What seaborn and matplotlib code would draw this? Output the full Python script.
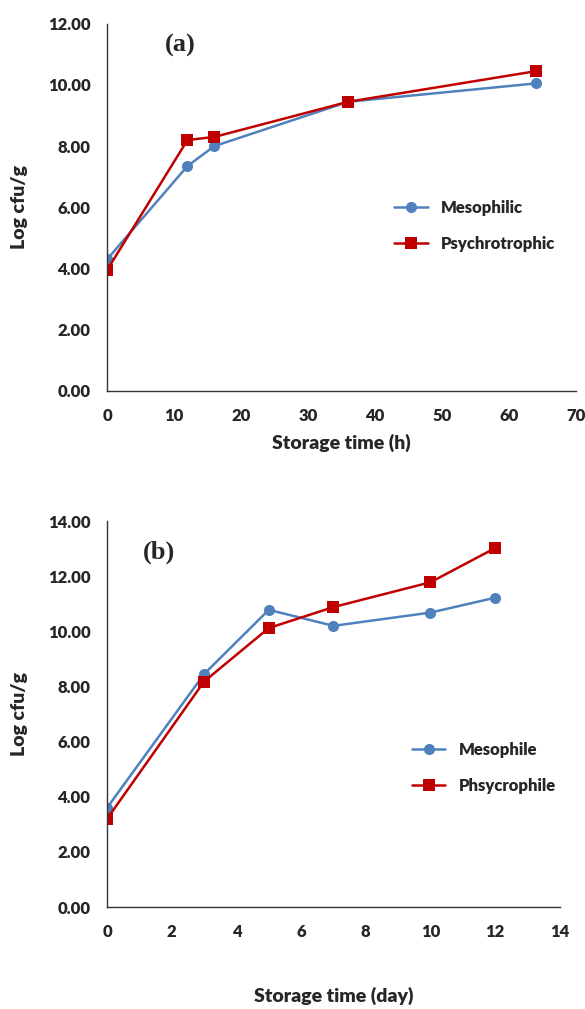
import pandas as pd
import matplotlib
matplotlib.use('Agg')
import matplotlib.pyplot as plt
import seaborn as sns

# Panel (a): storage time in hours
hours = [0, 12, 16, 36, 64]
mesophilic_a = [4.30, 7.35, 8.00, 9.45, 10.05]
psychrotrophic_a = [3.95, 8.20, 8.30, 9.45, 10.45]

# Panel (b): storage time in days
days = [0, 3, 5, 7, 10, 12]
mesophile_b = [3.60, 8.45, 10.78, 10.20, 10.68, 11.22]
phsycrophile_b = [3.20, 8.18, 10.12, 10.88, 11.78, 13.02]

BLUE = '#4F81BD'
RED = '#C00000'
WEIGHT = 'heavy'


def long_form(x, series):
    rows = []
    for name, vals in series.items():
        for xi, yi in zip(x, vals):
            rows.append({'x': xi, 'y': yi, 'series': name})
    return pd.DataFrame(rows)


def style_axes(ax, xlim, xticks, ylim, yticks, xlabel, xlabel_pad):
    ax.set_xlim(*xlim)
    ax.set_ylim(*ylim)
    ax.set_xticks(xticks)
    ax.set_yticks(yticks)
    ax.set_yticklabels([f'{v:.2f}' for v in yticks])
    ax.tick_params(length=0, labelsize=12, pad=12)
    for lab in ax.get_xticklabels() + ax.get_yticklabels():
        lab.set_fontweight(WEIGHT)
    for s in ['top', 'right']:
        ax.spines[s].set_visible(False)
    for s in ['left', 'bottom']:
        ax.spines[s].set_color('#333333')
        ax.spines[s].set_linewidth(1.0)
    ax.set_xlabel(xlabel, fontsize=14, fontweight=WEIGHT, labelpad=xlabel_pad)
    ax.set_ylabel('Log cfu/g', fontsize=14, fontweight=WEIGHT, labelpad=14)
    ax.grid(False)


def main():
    sns.set_style('white')
    plt.rcParams['font.family'] = ['Lato', 'DejaVu Sans']

    fig = plt.figure(figsize=(5.85, 10.09), dpi=100)
    ax_a = fig.add_axes([0.183, 0.6125, 0.802, 0.364])
    ax_b = fig.add_axes([0.183, 0.101, 0.774, 0.3826])

    names_a = ['Mesophilic', 'Psychrotrophic']
    df_a = long_form(hours, {'Mesophilic': mesophilic_a, 'Psychrotrophic': psychrotrophic_a})
    sns.lineplot(data=df_a, x='x', y='y', hue='series', style='series',
                 hue_order=names_a, style_order=names_a,
                 palette=[BLUE, RED], markers=['o', 's'], dashes=False,
                 markersize=8, markeredgewidth=0, linewidth=1.8, ax=ax_a)
    style_axes(ax_a, (0, 70), range(0, 71, 10), (0, 12), [0, 2, 4, 6, 8, 10, 12],
               'Storage time (h)', 7)
    ax_a.legend(loc='center left', bbox_to_anchor=(0.58, 0.45), frameon=False,
                prop={'weight': WEIGHT, 'size': 12}, labelspacing=1.2,
                handlelength=2.0)
    ax_a.text(0.155, 0.94, '(a)', transform=ax_a.transAxes, fontsize=19,
              fontweight='bold', family='Liberation Serif', ha='center', va='center')

    names_b = ['Mesophile', 'Phsycrophile']
    df_b = long_form(days, {'Mesophile': mesophile_b, 'Phsycrophile': phsycrophile_b})
    sns.lineplot(data=df_b, x='x', y='y', hue='series', style='series',
                 hue_order=names_b, style_order=names_b,
                 palette=[BLUE, RED], markers=['o', 's'], dashes=False,
                 markersize=8, markeredgewidth=0, linewidth=1.8, ax=ax_b)
    style_axes(ax_b, (0, 14), range(0, 15, 2), (0, 14), [0, 2, 4, 6, 8, 10, 12, 14],
               'Storage time (day)', 34)
    ax_b.legend(loc='center left', bbox_to_anchor=(0.64, 0.36), frameon=False,
                prop={'weight': WEIGHT, 'size': 12}, labelspacing=1.2,
                handlelength=2.0)
    ax_b.text(0.115, 0.92, '(b)', transform=ax_b.transAxes, fontsize=19,
              fontweight='bold', family='Liberation Serif', ha='center', va='center')

    fig.savefig('out.png', dpi=100)
    plt.close(fig)


if __name__ == '__main__':
    main()
